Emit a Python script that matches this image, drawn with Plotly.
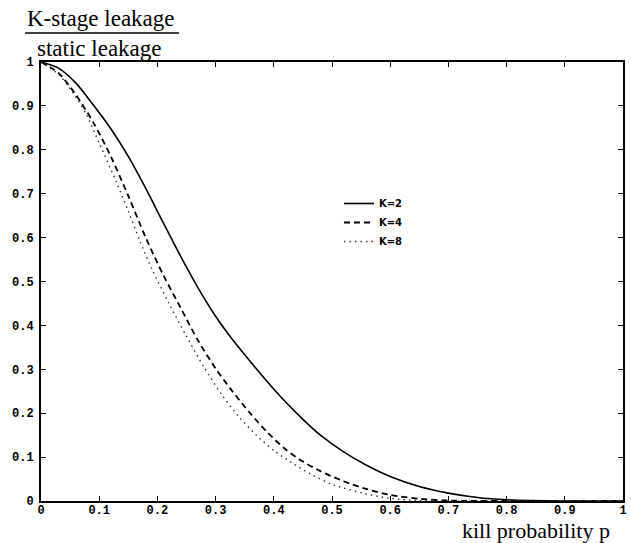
import plotly.graph_objects as go

# Leakage ratio vs kill probability for K = 2, 4, 8 stages
p_k2 = [0.00, 0.03, 0.06, 0.09, 0.12, 0.15, 0.18, 0.21, 0.24, 0.27, 0.30, 0.33, 0.36,
        0.39, 0.42, 0.45, 0.48, 0.52, 0.56, 0.60, 0.65, 0.70, 0.75, 0.80, 0.90, 1.00]
v_k2 = [1.000, 0.986, 0.952, 0.902, 0.848, 0.785, 0.712, 0.634, 0.557, 0.485, 0.421, 0.366, 0.317,
        0.270, 0.226, 0.186, 0.150, 0.112, 0.081, 0.056, 0.033, 0.018, 0.008, 0.003, 0.000, 0.000]

p_k4 = [0.00, 0.03, 0.06, 0.09, 0.12, 0.15, 0.18, 0.21, 0.24, 0.27, 0.30, 0.33, 0.36,
        0.39, 0.42, 0.45, 0.48, 0.52, 0.56, 0.60, 0.65, 0.70, 0.80, 1.00]
v_k4 = [1.000, 0.975, 0.925, 0.862, 0.785, 0.695, 0.600, 0.515, 0.440, 0.365, 0.302, 0.248, 0.199,
        0.155, 0.118, 0.090, 0.068, 0.045, 0.027, 0.014, 0.005, 0.001, 0.000, 0.000]

p_k8 = [0.00, 0.03, 0.055, 0.078, 0.10, 0.13, 0.15, 0.17, 0.19, 0.22, 0.25, 0.28, 0.31,
        0.34, 0.37, 0.40, 0.43, 0.465, 0.50, 0.556, 0.60, 0.65, 0.70, 1.00]
v_k8 = [1.000, 0.972, 0.930, 0.880, 0.815, 0.725, 0.660, 0.592, 0.530, 0.450, 0.375, 0.305, 0.243,
        0.192, 0.150, 0.115, 0.088, 0.060, 0.038, 0.017, 0.006, 0.001, 0.000, 0.000]

tick_vals = [0, 0.1, 0.2, 0.3, 0.4, 0.5, 0.6, 0.7, 0.8, 0.9, 1]
tick_text = ["0", "0.1", "0.2", "0.3", "0.4", "0.5", "0.6", "0.7", "0.8", "0.9", "1"]

fig = go.Figure()
fig.add_trace(go.Scatter(x=p_k2, y=v_k2, mode="lines", name="K=2",
                         line=dict(color="black", width=1.6, shape="spline", smoothing=0.8)))
fig.add_trace(go.Scatter(x=p_k4, y=v_k4, mode="lines", name="K=4",
                         line=dict(color="black", width=1.8, dash="6px,4px",
                                   shape="spline", smoothing=0.8)))
fig.add_trace(go.Scatter(x=p_k8, y=v_k8, mode="lines", name="K=8",
                         line=dict(color="#333333", width=1.4, dash="1.5px,4px",
                                   shape="spline", smoothing=0.8)))

axis_common = dict(
    range=[0, 1],
    tickmode="array",
    tickvals=tick_vals,
    ticktext=tick_text,
    ticks="inside",
    ticklen=5,
    tickwidth=1,
    tickcolor="black",
    showline=True,
    linecolor="black",
    linewidth=1.8,
    mirror="allticks",
    showgrid=False,
    zeroline=False,
    tickfont=dict(family="Liberation Mono", size=12, color="black", weight="bold"),
)

fig.update_layout(
    width=631,
    height=543,
    margin=dict(l=41, r=4, t=62, b=42),
    paper_bgcolor="white",
    plot_bgcolor="white",
    showlegend=True,
    legend=dict(
        x=0.512, y=(501 - 189) / 439, xanchor="left", yanchor="top",
        bgcolor="rgba(0,0,0,0)",
        font=dict(family="DejaVu Sans", size=10, color="black", weight="bold"),
    ),
    xaxis=dict(**axis_common, ticklabelstandoff=-3),
    yaxis=dict(**axis_common, ticklabelstandoff=3),
)

# Fraction-style y-axis label
label_font = dict(family="Liberation Serif", size=23, color="black")
fig.add_annotation(text="K-stage leakage", xref="paper", yref="paper",
                   x=(101 - 41) / 586, y=(501 - 19) / 439,
                   xanchor="center", yanchor="middle", showarrow=False, font=label_font)
fig.add_annotation(text="static leakage", xref="paper", yref="paper",
                   x=(100 - 41) / 586, y=(501 - 48) / 439,
                   xanchor="center", yanchor="middle", showarrow=False, font=label_font)
fig.add_shape(type="line", xref="paper", yref="paper",
              x0=(25 - 41) / 586, x1=(180 - 41) / 586,
              y0=(501 - 33) / 439, y1=(501 - 33) / 439,
              line=dict(color="black", width=1.5))

fig.add_annotation(text="kill probability p", xref="paper", yref="paper",
                   x=(539 - 41) / 586, y=(501 - 530) / 439,
                   xanchor="center", yanchor="middle", showarrow=False,
                   font=dict(family="Liberation Serif", size=22, color="black"))

fig.write_html("out.html")
